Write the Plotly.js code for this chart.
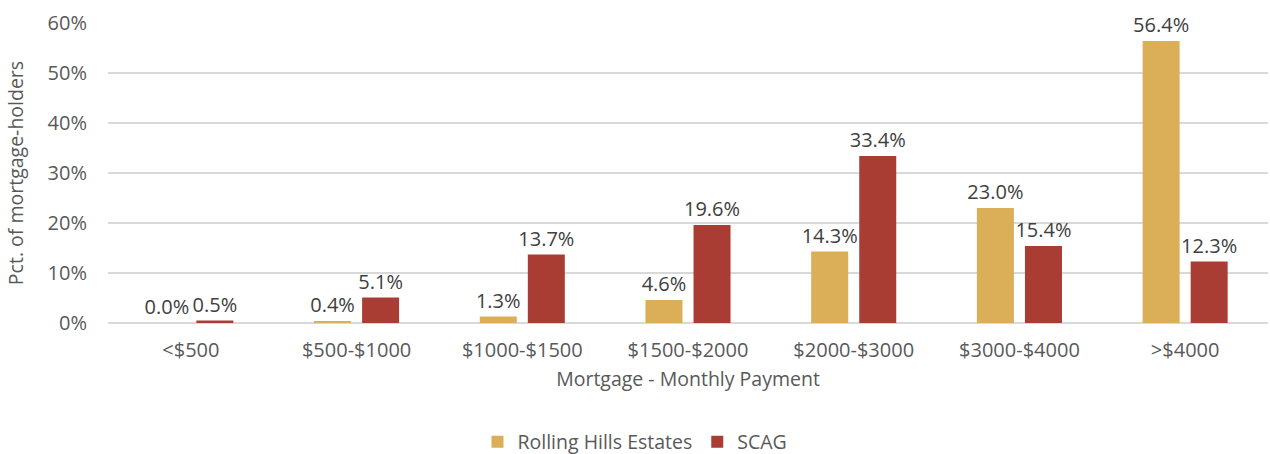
<!DOCTYPE html>
<html>
<head>
<meta charset="utf-8">
<script src="https://cdn.plot.ly/plotly-3.0.1.min.js"></script>
<style>
  html, body { margin: 0; padding: 0; background: #fff; }
  #chart { width: 1270px; height: 454px; }
</style>
</head>
<body>
<div id="chart"></div>
<script>
var categories = ['<$500', '$500-$1000', '$1000-$1500', '$1500-$2000', '$2000-$3000', '$3000-$4000', '>$4000'];
var rollingHills = [0.0, 0.4, 1.3, 4.6, 14.3, 23.0, 56.4];
var scag = [0.5, 5.1, 13.7, 19.6, 33.4, 15.4, 12.3];

var font = '"Open Sans", "Liberation Sans", sans-serif';

var trace1 = {
  type: 'bar',
  x: categories,
  y: rollingHills,
  name: 'Rolling Hills Estates',
  marker: { color: '#DBAE58' },
  texttemplate: '%{y:.1f}%',
  textposition: 'outside',
  constraintext: 'none',
  textfont: { size: 20, color: '#404040', family: font },
  cliponaxis: false,
  hoverinfo: 'skip'
};

var trace2 = {
  type: 'bar',
  x: categories,
  y: scag,
  name: 'SCAG',
  marker: { color: '#A93C33' },
  texttemplate: '%{y:.1f}%',
  textposition: 'outside',
  constraintext: 'none',
  textfont: { size: 20, color: '#404040', family: font },
  cliponaxis: false,
  hoverinfo: 'skip'
};

var layout = {
  width: 1270,
  height: 454,
  margin: { l: 108, r: 2, t: 23, b: 131 },
  paper_bgcolor: '#fff',
  plot_bgcolor: '#fff',
  font: { family: font, size: 20, color: '#595959' },
  barmode: 'group',
  bargap: 0.42,
  bargroupgap: 0.23,
  showlegend: true,
  legend: {
    orientation: 'h',
    x: 0.5,
    xref: 'container',
    xanchor: 'center',
    y: 0.026,
    yref: 'container',
    yanchor: 'middle',
    font: { size: 19.5, color: '#595959' }
  },
  xaxis: {
    title: { text: 'Mortgage - Monthly Payment', font: { size: 19.5, color: '#595959' }, standoff: 10 },
    tickfont: { size: 20, color: '#595959' },
    ticklabelstandoff: 13,
    showgrid: false,
    showline: false,
    ticks: '',
    automargin: false
  },
  yaxis: {
    title: { text: 'Pct. of mortgage-holders', font: { size: 19.5, color: '#595959' }, standoff: 18 },
    range: [0, 60],
    dtick: 10,
    ticksuffix: '%',
    tickfont: { size: 20, color: '#595959' },
    ticklabelstandoff: 20,
    gridcolor: '#D9D9D9',
    gridwidth: 1.5,
    zeroline: true,
    zerolinecolor: '#D9D9D9',
    zerolinewidth: 1.5,
    showline: false,
    automargin: false
  }
};

Plotly.newPlot('chart', [trace1, trace2], layout, { displayModeBar: false, staticPlot: true });
</script>
</body>
</html>
